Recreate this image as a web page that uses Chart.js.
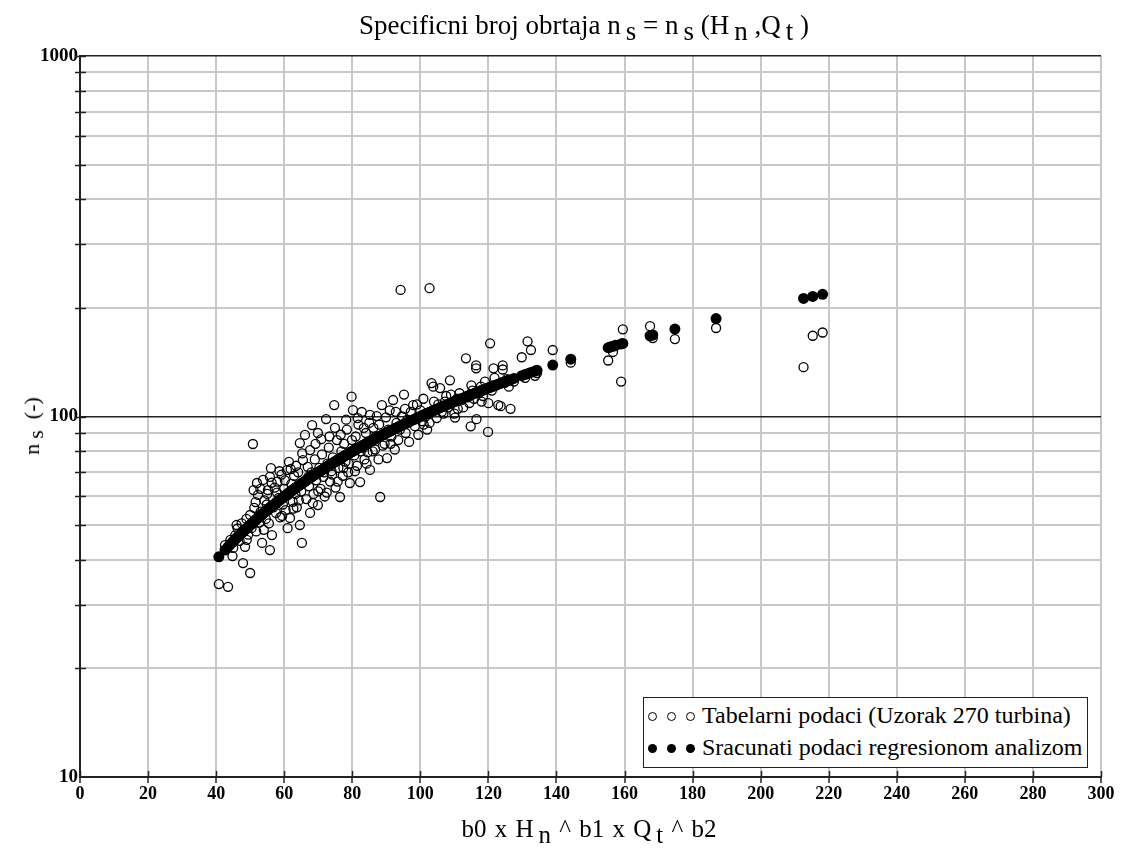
<!DOCTYPE html>
<html>
<head>
<meta charset="utf-8">
<script src="https://cdn.jsdelivr.net/npm/chart.js@4.4.0/dist/chart.umd.min.js"></script>
<style>
  body { margin: 0; background: #fff; }
  #wrap { position: relative; width: 1122px; height: 858px; font-family: "Liberation Serif", "Times New Roman", serif; color: #000; }
  #chart { position: absolute; left: 0; top: 0; }
  .sub { position: relative; top: 6px; margin-left: 5px; }
  #title { position: absolute; top: 10px; left: 0; width: 1168px; text-align: center; font-size: 27px; white-space: nowrap; }
  #xTitle { position: absolute; top: 815px; left: 0; width: 1178px; text-align: center; font-size: 25px; white-space: nowrap; word-spacing: 2px; }
  #yTitle { position: absolute; left: 32px; top: 426px; transform: translate(-50%, -50%) rotate(-90deg); font-size: 22px; white-space: nowrap; }
  #legend { position: absolute; left: 643px; top: 697px; width: 443px; height: 69px; border: 1.5px solid #222; background: #fff; font-size: 24px; }
  .row { position: absolute; left: 0; height: 32px; line-height: 32px; white-space: nowrap; }
  .mk { display: inline-block; width: 9px; height: 9px; border-radius: 50%; margin-left: 3px; margin-right: 7px; vertical-align: middle; box-sizing: border-box; position: relative; top: -1px; }
  .open { border: 1.3px solid #000; }
  .full { background: #000; }
</style>
</head>
<body>
<div id="wrap">
  <canvas id="chart" width="1122" height="858"></canvas>
  <div id="title">Specificni broj obrtaja n<span class="sub">s</span> = n<span class="sub">s</span> (H<span class="sub">n</span> ,Q<span class="sub">t</span> )</div>
  <div id="yTitle">n<span class="sub" style="top:4px">s</span> &nbsp;(-)</div>
  <div id="xTitle">b0 x H<span class="sub">n</span> ^ b1 x Q<span class="sub">t</span> ^ b2</div>
  <div id="legend">
    <div class="row" style="top:1px"><span class="mk open" style="margin-left:4px"></span><span class="mk open"></span><span class="mk open"></span>Tabelarni podaci (Uzorak 270 turbina)</div>
    <div class="row" style="top:33px"><span class="mk full" style="margin-left:4px"></span><span class="mk full"></span><span class="mk full"></span>Sracunati podaci regresionom analizom</div>
  </div>
</div>
<script>
// b0 x Hn^b1 x Qt^b2 for each turbine
const turbineX = [
  40.8, 42.6, 43.5, 44.2, 45.0, 45.6, 46.3, 46.9, 47.5, 47.9,
  48.5, 48.9, 49.4, 50.0, 50.0, 50.4, 50.8, 51.2, 51.6, 52.0,
  52.3, 52.7, 53.1, 53.5, 53.8, 54.2, 54.6, 55.0, 55.2, 55.5,
  55.8, 55.8, 56.1, 56.4, 56.8, 57.2, 57.6, 58.0, 58.4, 58.8,
  59.2, 59.6, 60.0, 60.4, 60.8, 61.1, 61.4, 61.7, 62.1, 62.5,
  62.9, 63.3, 63.7, 64.1, 64.6, 64.6, 65.0, 65.2, 65.5, 65.8,
  66.1, 66.5, 66.9, 67.3, 67.6, 67.6, 68.0, 68.2, 68.6, 69.0,
  69.4, 69.9, 69.9, 70.3, 70.7, 71.1, 71.5, 71.9, 72.3, 72.7,
  73.1, 73.5, 73.9, 74.3, 74.7, 75.1, 75.5, 75.9, 76.4, 76.8,
  77.2, 77.6, 78.0, 78.4, 78.8, 79.3, 79.8, 80.2, 80.6, 81.0,
  81.4, 81.8, 82.3, 82.8, 83.2, 83.6, 84.0, 84.5, 85.2, 85.2,
  85.7, 86.2, 86.7, 87.2, 87.7, 88.2, 88.7, 89.5, 90.2, 90.6,
  91.0, 91.5, 92.0, 92.5, 93.0, 93.5, 94.2, 94.6, 95.2, 95.7,
  96.2, 96.7, 97.2, 97.9, 98.4, 98.9, 99.4, 100.0, 100.5, 100.9,
  101.5, 102.0, 102.7, 102.7, 103.3, 103.8, 104.3, 104.8, 105.3, 105.8,
  106.3, 106.8, 107.2, 107.6, 108.2, 108.7, 109.3, 110.0, 110.2, 110.8,
  111.5, 112.0, 112.6, 113.4, 113.9, 114.4, 114.8, 115.3, 115.8, 116.4,
  116.4, 116.5, 117.2, 117.8, 118.4, 119.0, 119.9, 120.0, 120.5, 121.0,
  121.5, 122.2, 122.9, 123.6, 124.2, 124.2, 124.8, 125.4, 126.0, 126.5,
  127.5, 129.8, 130.8, 131.5, 132.5, 133.7, 134.3, 138.9, 144.2, 155.2,
  155.8, 156.6, 157.4, 159.0, 159.5, 167.5, 168.3, 174.8, 186.9, 212.6,
  215.3, 218.2,
  44.8, 46.0, 49.0, 51.0, 51.8, 53.0, 54.0, 54.9, 56.3, 57.9,
  58.6, 59.4, 60.2, 61.0, 61.9, 62.7, 63.5, 64.3, 65.3, 67.1,
  68.4, 69.2, 70.0, 70.9, 71.7, 72.5, 73.3, 74.1, 74.9, 75.7,
  76.6, 77.4, 78.2, 79.0, 79.9, 80.8, 81.6, 82.5, 83.4, 84.2,
  85.0, 86.0, 86.9, 87.9, 89.0, 89.9, 91.3, 92.8, 94.0, 95.5,
  99.0, 101.0, 104.0, 109.0, 111.0, 115.0, 118.0, 121.8
];

// tabulated ns values (open circles)
const tabNs = [
  34.3, 44.0, 33.7, 45.5, 43.2, 46.8, 48.9, 45.2, 50.5, 39.2,
  43.5, 52.0, 47.0, 36.8, 53.3, 49.0, 83.9, 55.8, 57.9, 65.4,
  60.6, 50.8, 54.5, 44.6, 66.7, 58.5, 52.0, 61.0, 62.5, 50.5,
  68.0, 42.6, 71.9, 46.9, 56.0, 63.5, 54.0, 66.0, 59.5, 52.5,
  69.0, 57.0, 63.0, 55.0, 71.0, 60.5, 74.8, 52.3, 65.0, 58.0,
  68.5, 61.0, 56.0, 70.0, 84.4, 50.0, 62.0, 44.6, 75.7, 66.0,
  88.9, 59.0, 72.5, 64.0, 80.7, 54.0, 70.0, 94.7, 61.0, 76.0,
  66.5, 90.0, 56.8, 72.0, 63.0, 78.5, 68.0, 60.0, 98.4, 74.0,
  82.0, 66.0, 70.5, 77.0, 107.6, 63.5, 86.0, 72.0, 59.8, 80.0,
  68.5, 84.0, 75.0, 92.0, 70.0, 65.4, 113.5, 104.2, 78.0, 88.0,
  73.0, 95.0, 65.8, 102.9, 82.0, 76.0, 90.0, 79.5, 101.0, 71.1,
  86.0, 93.0, 81.0, 100.3, 76.0, 59.8, 107.6, 84.0, 76.7, 92.0,
  104.0, 88.0, 111.1, 81.0, 96.0, 86.0, 224.5, 100.0, 115.0, 90.0,
  98.0, 85.0, 103.0, 107.6, 94.0, 99.0, 89.0, 104.0, 97.0, 112.0,
  100.0, 92.0, 227.0, 96.0, 123.8, 121.0, 104.0, 99.0, 108.0, 119.9,
  103.0, 101.9, 110.0, 114.0, 106.0, 126.0, 109.0, 101.9, 99.3, 112.0,
  116.0, 111.0, 106.0, 145.0, 113.0, 109.0, 93.9, 118.0, 112.0, 138.6,
  136.0, 98.3, 116.0, 121.0, 114.0, 125.0, 90.6, 108.9, 159.6, 118.0,
  136.0, 122.0, 107.6, 106.8, 138.6, 135.0, 124.0, 127.0, 121.0, 105.0,
  125.0, 146.0, 128.0, 161.6, 152.9, 129.7, 132.0, 152.9, 141.0, 143.0,
  156.0, 151.0, 158.0, 125.0, 174.5, 178.0, 165.0, 164.0, 176.0, 137.0,
  167.5, 171.0,
  41.0, 50.0, 45.5, 62.5, 48.0, 63.0, 48.5, 57.0, 65.5, 61.5,
  70.5, 53.0, 66.5, 49.0, 71.5, 55.5, 73.0, 58.5, 79.0, 68.0,
  57.5, 84.0, 62.0, 86.5, 70.0, 61.5, 88.0, 69.0, 93.0, 66.0,
  89.0, 72.0, 98.0, 74.0, 86.0, 70.5, 99.0, 80.0, 93.0, 74.0,
  96.0, 80.0, 88.0, 95.0, 83.0, 99.5, 84.0, 103.0, 92.0, 105.0,
  108.0, 95.0, 110.0, 115.0, 105.0, 122.0, 110.0, 128.0
];

// ns from the regression model (filled circles)
const calcNs = [
  40.8, 42.6, 43.5, 44.2, 45.0, 45.6, 46.3, 46.9, 47.5, 47.9,
  48.5, 48.9, 49.4, 50.0, 50.0, 50.4, 50.8, 51.2, 51.6, 52.0,
  52.3, 52.7, 53.1, 53.5, 53.8, 54.2, 54.6, 55.0, 55.2, 55.5,
  55.8, 55.8, 56.1, 56.4, 56.8, 57.2, 57.6, 58.0, 58.4, 58.8,
  59.2, 59.6, 60.0, 60.4, 60.8, 61.1, 61.4, 61.7, 62.1, 62.5,
  62.9, 63.3, 63.7, 64.1, 64.6, 64.6, 65.0, 65.2, 65.5, 65.8,
  66.1, 66.5, 66.9, 67.3, 67.6, 67.6, 68.0, 68.2, 68.6, 69.0,
  69.4, 69.9, 69.9, 70.3, 70.7, 71.1, 71.5, 71.9, 72.3, 72.7,
  73.1, 73.5, 73.9, 74.3, 74.7, 75.1, 75.5, 75.9, 76.4, 76.8,
  77.2, 77.6, 78.0, 78.4, 78.8, 79.3, 79.8, 80.2, 80.6, 81.0,
  81.4, 81.8, 82.3, 82.8, 83.2, 83.6, 84.0, 84.5, 85.2, 85.2,
  85.7, 86.2, 86.7, 87.2, 87.7, 88.2, 88.7, 89.5, 90.2, 90.6,
  91.0, 91.5, 92.0, 92.5, 93.0, 93.5, 94.2, 94.6, 95.2, 95.7,
  96.2, 96.7, 97.2, 97.9, 98.4, 98.9, 99.4, 100.0, 100.5, 100.9,
  101.5, 102.0, 102.7, 102.7, 103.3, 103.8, 104.3, 104.8, 105.3, 105.8,
  106.3, 106.8, 107.2, 107.6, 108.2, 108.7, 109.3, 110.0, 110.2, 110.8,
  111.5, 112.0, 112.6, 113.4, 113.9, 114.4, 114.8, 115.3, 115.8, 116.4,
  116.4, 116.5, 117.2, 117.8, 118.4, 119.0, 119.9, 120.0, 120.5, 121.0,
  121.5, 122.2, 122.9, 123.6, 124.2, 124.2, 124.8, 125.4, 126.0, 126.5,
  127.5, 129.8, 130.8, 131.5, 132.5, 133.7, 134.3, 138.9, 144.2, 155.2,
  155.8, 156.6, 157.4, 159.0, 159.5, 167.5, 168.3, 174.8, 186.9, 212.6,
  215.3, 218.2,
  44.8, 46.0, 49.0, 51.0, 51.8, 53.0, 54.0, 54.9, 56.3, 57.9,
  58.6, 59.4, 60.2, 61.0, 61.9, 62.7, 63.5, 64.3, 65.3, 67.1,
  68.4, 69.2, 70.0, 70.9, 71.7, 72.5, 73.3, 74.1, 74.9, 75.7,
  76.6, 77.4, 78.2, 79.0, 79.9, 80.8, 81.6, 82.5, 83.4, 84.2,
  85.0, 86.0, 86.9, 87.9, 89.0, 89.9, 91.3, 92.8, 94.0, 95.5,
  99.0, 101.0, 104.0, 109.0, 111.0, 115.0, 118.0, 121.8
];

const yTickValues = [10, 20, 30, 40, 50, 60, 70, 80, 90, 100,
  200, 300, 400, 500, 600, 700, 800, 900, 1000];
const yTickLabels = [10, 100, 1000];

// short black tick marks that cross both axes
const axisMarks = {
  id: 'axisMarks',
  afterDraw(chart) {
    const { ctx, chartArea, scales } = chart;
    ctx.save();
    ctx.strokeStyle = '#222';
    ctx.lineWidth = 1.5;
    scales.x.ticks.forEach(t => {
      const px = Math.round(scales.x.getPixelForValue(t.value)) + 0.5;
      ctx.beginPath();
      ctx.moveTo(px, chartArea.bottom);
      ctx.lineTo(px, chartArea.bottom - 6);
      ctx.stroke();
    });
    yTickValues.forEach(v => {
      if (v === 10) return;
      const py = Math.round(scales.y.getPixelForValue(v)) + 0.5;
      ctx.beginPath();
      ctx.moveTo(chartArea.left - 5, py);
      ctx.lineTo(chartArea.left + 6, py);
      ctx.stroke();
    });
    ctx.restore();
  }
};

const ctx = document.getElementById('chart').getContext('2d');
new Chart(ctx, {
  type: 'scatter',
  data: {
    datasets: [
      {
        label: 'Sracunati podaci regresionom analizom',
        data: turbineX.map((x, i) => ({ x: x, y: calcNs[i] })),
        pointStyle: 'circle',
        pointRadius: 5.5,
        backgroundColor: '#000',
        borderColor: '#000',
        borderWidth: 0,
        order: 0
      },
      {
        label: 'Tabelarni podaci (Uzorak 270 turbina)',
        data: turbineX.map((x, i) => ({ x: x, y: tabNs[i] })),
        pointStyle: 'circle',
        pointRadius: 4.5,
        backgroundColor: 'rgba(0,0,0,0)',
        borderColor: '#000',
        borderWidth: 1.3,
        order: 1
      }
    ]
  },
  options: {
    responsive: false,
    animation: false,
    layout: { padding: { top: 56, right: 21, left: 0, bottom: 0 } },
    plugins: {
      legend: { display: false },
      title: { display: false },
      tooltip: { enabled: false }
    },
    scales: {
      x: {
        type: 'linear',
        min: 0,
        max: 300,
        afterFit: scale => { scale.height = 81; },
        ticks: { stepSize: 20, color: '#000', font: { family: 'Liberation Serif', size: 18, weight: 'bold' }, padding: 1 },
        grid: {
          color: '#c8c8c8',
          lineWidth: 2,
          tickColor: '#222',
          tickLength: 6,
          tickWidth: 1.5
        },
        border: { color: '#222', width: 2 }
      },
      y: {
        type: 'logarithmic',
        min: 10,
        max: 1000,
        afterFit: scale => { scale.width = 80; },
        afterBuildTicks: scale => {
          scale.ticks = yTickValues.map(v => ({ value: v, major: yTickLabels.includes(v) }));
        },
        ticks: {
          autoSkip: false,
          color: '#000',
          font: { family: 'Liberation Serif', size: 19, weight: 'bold' },
          padding: 2,
          callback: v => (yTickLabels.includes(v) ? String(v) : '')
        },
        grid: {
          drawTicks: false,
          color: c => (c.tick && (c.tick.value === 100 || c.tick.value === 1000) ? '#222' : '#c8c8c8'),
          lineWidth: c => (c.tick && (c.tick.value === 100 || c.tick.value === 1000) ? 1.5 : 2)
        },
        border: { color: '#222', width: 2 }
      }
    }
  },
  plugins: [axisMarks]
});
</script>
</body>
</html>
